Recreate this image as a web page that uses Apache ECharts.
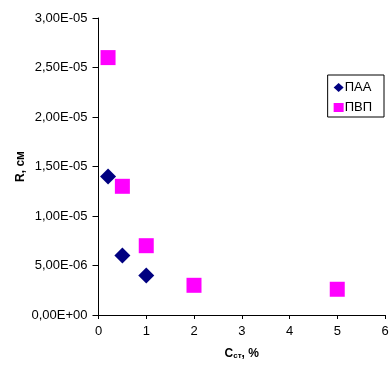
<!DOCTYPE html>
<html><head><meta charset="utf-8">
<script src="https://cdn.jsdelivr.net/npm/echarts@6/dist/echarts.min.js"></script>
<style>html,body{margin:0;padding:0;background:#fff;}#c{width:390px;height:367px;}</style>
</head><body><div id="c"></div>
<script>
const seriesNames = ['ПАА', 'ПВП'];
const paaX = [0.2, 0.5, 1];
const paaY = [1.4e-5, 6e-6, 4e-6];
const pvpX = [0.2, 0.5, 1, 2, 5];
const pvpY = [2.6e-5, 1.3e-5, 7e-6, 3e-6, 2.6e-6];
const xTicks = [0, 1, 2, 3, 4, 5, 6];
const yTickLabels = ['0,00E+00','5,00E-06','1,00E-05','1,50E-05','2,00E-05','2,50E-05','3,00E-05'];

const chart = echarts.init(document.getElementById('c'));
const font = 'Arial';
chart.setOption({
  animation: false,
  textStyle: { fontFamily: font },
  grid: { left: 98.5, right: 5, top: 18, bottom: 52, containLabel: false, outerBoundsMode: 'none' },
  legend: {
    orient: 'vertical', right: 6, top: 75,
    data: [{ name: seriesNames[0], icon: 'diamond' }, { name: seriesNames[1], icon: 'rect' }],
    borderColor: '#000', borderWidth: 1, borderRadius: 0,
    padding: [6, 12, 3, 6], itemGap: 7, itemWidth: 10, itemHeight: 9,
    textStyle: { fontFamily: font, fontSize: 13, color: '#000', padding: [0, 0, 0, -4] }
  },
  xAxis: {
    type: 'value', min: 0, max: 6, interval: 1,
    axisLine: { show: true, lineStyle: { color: '#000', width: 1 } },
    axisTick: { show: true, length: 4, lineStyle: { color: '#000' } },
    splitLine: { show: false },
    axisLabel: { fontSize: 13, fontFamily: font, color: '#000', margin: 10, formatter: v => xTicks.includes(v) ? String(v) : '' },
    name: 'C{s|ст}, %', nameLocation: 'middle', nameGap: 33, nameMoveOverlap: false,
    nameTextStyle: { fontSize: 12, fontWeight: 'bold', color: '#000', fontFamily: font,
      rich: { s: { fontSize: 8, fontWeight: 'bold', verticalAlign: 'bottom', padding: [4, 0, 0, 0], fontFamily: font } } }
  },
  yAxis: {
    type: 'value', min: 0, max: 3e-5, interval: 5e-6,
    axisLine: { show: true, lineStyle: { color: '#000', width: 1 } },
    axisTick: { show: true, length: 6, lineStyle: { color: '#000' } },
    splitLine: { show: false },
    axisLabel: { fontSize: 13, fontFamily: font, color: '#000', margin: 11,
      formatter: (v) => yTickLabels[Math.round(v / 5e-6)] },
    name: 'R, см', nameLocation: 'middle', nameGap: 72, nameMoveOverlap: false,
    nameTextStyle: { fontSize: 12, fontWeight: 'bold', color: '#000', fontFamily: font }
  },
  series: [
    { name: seriesNames[0], type: 'scatter', symbol: 'diamond', symbolSize: 16,
      itemStyle: { color: '#000080', opacity: 1 }, data: paaX.map((x, i) => [x, paaY[i]]) },
    { name: seriesNames[1], type: 'scatter', symbol: 'rect', symbolSize: 15,
      itemStyle: { color: '#FF00FF', opacity: 1 }, data: pvpX.map((x, i) => [x, pvpY[i]]) }
  ]
});
</script></body></html>
